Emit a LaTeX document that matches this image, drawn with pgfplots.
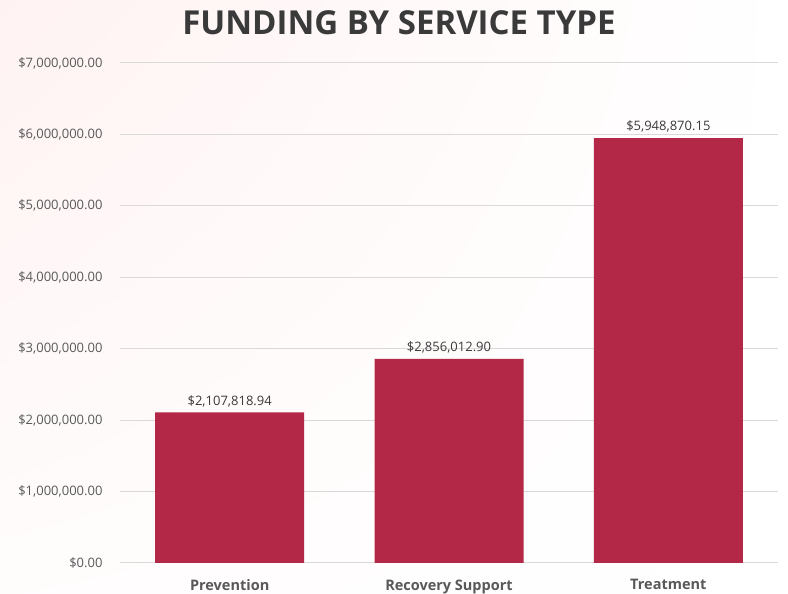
\documentclass[border=0pt]{standalone}
\usepackage{fontspec}
\setmainfont{Open Sans}
\usepackage{pgfplots}
\pgfplotsset{compat=1.18}
\usetikzlibrary{shadings}
\definecolor{barred}{HTML}{B32846}
\definecolor{ticktext}{HTML}{595959}
\definecolor{titletext}{HTML}{3A3A3A}
\definecolor{gridgray}{HTML}{D9D9D9}
\begin{document}
\begin{tikzpicture}[x=1pt,y=1pt]
  \useasboundingbox (0,0) rectangle (788,594);
  \shade[upper left=red!5!white, upper right=white, lower left=red!1!white, lower right=white] (0,0) rectangle (788,594);
  \node[font=\bfseries\fontsize{33}{36}\selectfont, text=titletext] at (399,571) {FUNDING BY SERVICE TYPE};
  \begin{axis}[
    at={(120pt,31pt)}, anchor=south west,
    scale only axis, width=658pt, height=500pt,
    ymin=0, ymax=7000000,
    xmin=-0.5, xmax=2.5,
    axis line style={draw=none},
    major tick length=0pt,
    scaled y ticks=false,
    ytick={0,1000000,...,7000000},
    yticklabels={{\$0.00},{\$1,000,000.00},{\$2,000,000.00},{\$3,000,000.00},{\$4,000,000.00},{\$5,000,000.00},{\$6,000,000.00},{\$7,000,000.00}},
    yticklabel style={font=\fontsize{13}{15}\selectfont, text=ticktext, xshift=-14pt},
    xtick=data,
    xticklabels={Prevention,Recovery Support,Treatment},
    xticklabel style={font=\bfseries\fontsize{14.5}{16}\selectfont, text=ticktext, yshift=-13pt},
    ymajorgrids, grid style={gridgray, line width=1pt},
    ybar, bar width=149pt,
    point meta=explicit symbolic,
    nodes near coords,
    nodes near coords style={font=\fontsize{13}{15}\selectfont, text=titletext, yshift=2pt},
    clip=false,
  ]
  \addplot[fill=barred, draw=none] coordinates {
    (0,2107818.94) [\$2,107,818.94]
    (1,2856012.90) [\$2,856,012.90]
    (2,5948870.15) [\$5,948,870.15]
  };
  \end{axis}
\end{tikzpicture}
\end{document}
